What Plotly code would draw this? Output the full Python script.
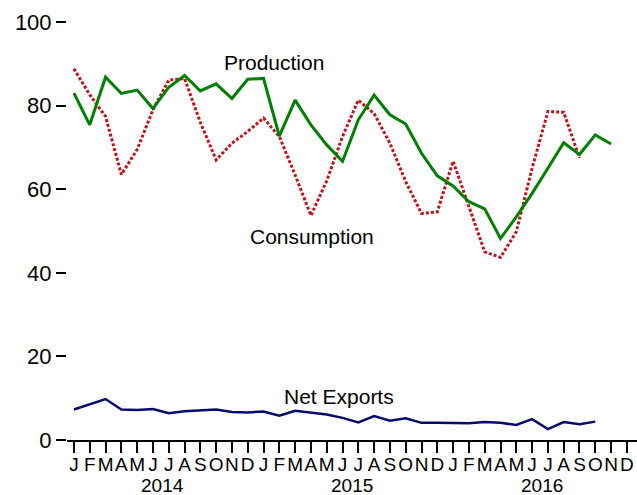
import plotly.graph_objects as go

months = ["J", "F", "M", "A", "M", "J", "J", "A", "S", "O", "N", "D"] * 3
years = ["2014", "2015", "2016"]

production = [83.0, 75.4, 86.8, 82.9, 83.7, 79.3, 84.4, 87.2, 83.5, 85.2, 81.7, 86.3,
              86.5, 72.7, 81.3, 75.4, 70.6, 66.7, 76.6, 82.5, 77.8, 75.6, 68.6, 63.2,
              60.8, 57.0, 55.3, 48.2, 53.4, 59.0, 65.0, 71.1, 68.3, 73.0, 70.8]
consumption = [88.8, 82.6, 77.4, 63.5, 69.5, 79.0, 86.1, 86.5, 76.0, 67.0, 71.0, 73.8,
               77.0, 72.6, 63.4, 53.7, 62.0, 72.6, 81.3, 78.1, 71.0, 61.8, 54.2, 54.6,
               66.7, 55.8, 45.0, 43.7, 49.8, 65.0, 78.6, 78.4, 67.5]
net_exports = [7.3, 8.6, 9.8, 7.3, 7.2, 7.4, 6.4, 6.9, 7.1, 7.3, 6.7, 6.6,
               6.8, 5.8, 7.0, 6.6, 6.1, 5.3, 4.2, 5.7, 4.6, 5.2, 4.1, 4.1,
               4.0, 4.0, 4.3, 4.1, 3.6, 5.0, 2.6, 4.3, 3.8, 4.4]

FONT = "Liberation Sans, Arial, sans-serif"

fig = go.Figure()
fig.add_trace(go.Scatter(x=list(range(len(consumption))), y=consumption, mode="lines",
                         line=dict(color="#c4121c", width=3, dash="3px,2px"), showlegend=False))
fig.add_trace(go.Scatter(x=list(range(len(production))), y=production, mode="lines",
                         line=dict(color="#008000", width=3), showlegend=False))
fig.add_trace(go.Scatter(x=list(range(len(net_exports))), y=net_exports, mode="lines",
                         line=dict(color="#0a0a6e", width=2.5), showlegend=False))

annotations = [
    dict(x=12.66, y=90.2, text="Production"),
    dict(x=15.06, y=48.8, text="Consumption"),
    dict(x=16.77, y=10.5, text="Net Exports"),
]
for a in annotations:
    a.update(xref="x", yref="y", showarrow=False, font=dict(family=FONT, size=21, color="black"))
for k, yr in enumerate(years):
    annotations.append(dict(x=5.6 + 12 * k, y=0, xref="x", yref="paper", yanchor="middle",
                            yshift=-45, text=yr, showarrow=False,
                            font=dict(family=FONT, size=19, color="black")))

fig.update_layout(
    width=637, height=495,
    margin=dict(l=67, r=0, t=22, b=55, autoexpand=False),
    paper_bgcolor="white", plot_bgcolor="white",
    font=dict(family=FONT, color="black"),
    annotations=annotations,
    xaxis=dict(range=[-0.44, 35.64], tickmode="array", tickvals=list(range(36)),
               ticktext=months, showgrid=False, zeroline=False, showline=True,
               linecolor="black", linewidth=2, ticks="outside", ticklen=11, tickwidth=2,
               tickcolor="black", tickangle=0, automargin=False, ticklabelstandoff=-5,
               tickfont=dict(size=19, family=FONT)),
    yaxis=dict(range=[0, 100], tickvals=[0, 20, 40, 60, 80, 100], showgrid=False,
               zeroline=False, showline=False, ticks="outside", ticklen=10, tickwidth=2,
               tickcolor="black", automargin=False, tickfont=dict(size=22, family=FONT)),
)

fig.write_html("out.html", config={"displayModeBar": False},
               post_script="document.body.style.margin='0';document.body.style.overflow='hidden';")
